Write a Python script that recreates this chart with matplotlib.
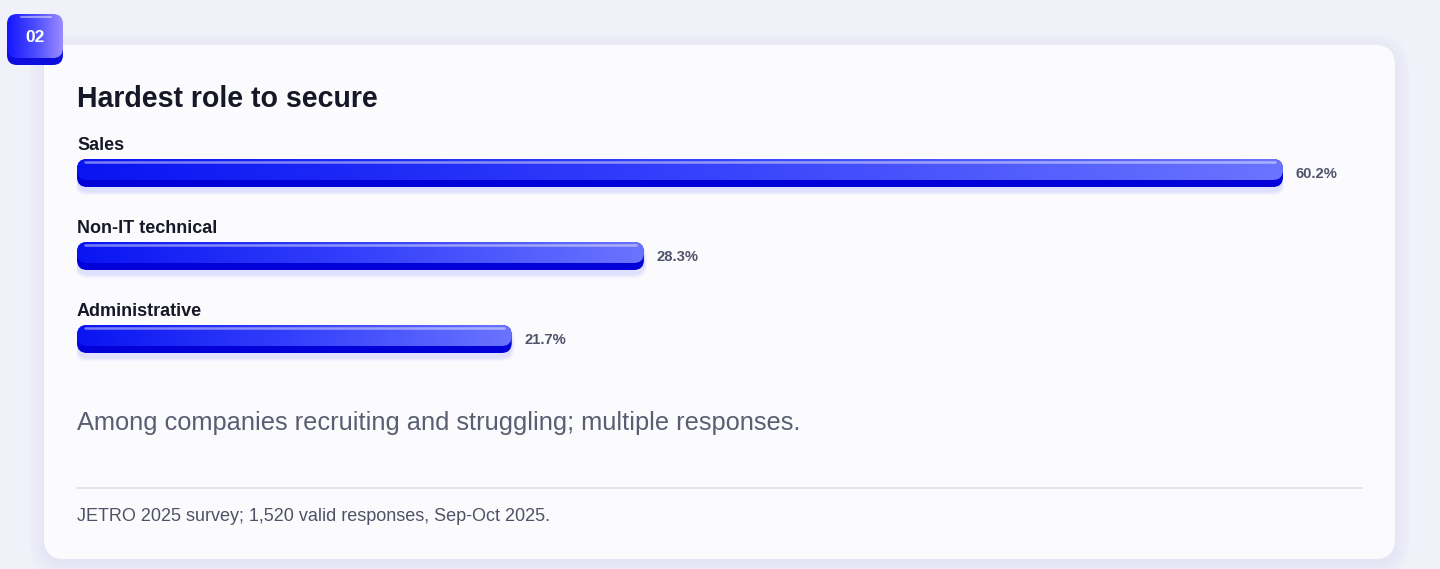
import numpy as np
import matplotlib
matplotlib.use("Agg")
import matplotlib.pyplot as plt
from matplotlib.patches import FancyBboxPatch
from matplotlib.colors import LinearSegmentedColormap

# ---- data ----
categories = ["Sales", "Non-IT technical", "Administrative"]
values = [60.2, 28.3, 21.7]
value_labels = ["60.2%", "28.3%", "21.7%"]
title = "Hardest role to secure"
subtitle = "Among companies recruiting and struggling; multiple responses."
footer = "JETRO 2025 survey; 1,520 valid responses, Sep-Oct 2025."
badge = "02"

W, H = 1440, 569
plt.rcParams['font.family'] = ['Liberation Sans', 'DejaVu Sans']
fig = plt.figure(figsize=(W / 100, H / 100), dpi=100)
fig.patch.set_facecolor("#f1f1fa")

# pixel overlay axes
ax0 = fig.add_axes([0, 0, 1, 1])
ax0.set_xlim(0, W)
ax0.set_ylim(H, 0)
ax0.axis("off")
ax0.set_zorder(0)

# card glow / shadow
for i, a in enumerate([0.05, 0.05, 0.05, 0.06, 0.07]):
    g = 14 - i * 3
    ax0.add_patch(FancyBboxPatch((44 - g, 45 - g + 4), 1351 + 2 * g, 514 + 2 * g,
                                 boxstyle="round,pad=0,rounding_size=%d" % (20 + g),
                                 fc="#c9c8f2", ec="none", alpha=a, zorder=1))
ax0.add_patch(FancyBboxPatch((44, 45), 1351, 514,
                             boxstyle="round,pad=0,rounding_size=20",
                             fc="#fbfbfd", ec="none", zorder=2))

# badge
bx, by, bw, bh = 7, 14, 56, 51
ax0.add_patch(FancyBboxPatch((bx, by + 4), bw, bh - 4,
                             boxstyle="round,pad=0,rounding_size=10",
                             fc="#0d0de0", ec="none", zorder=3))
bpatch = FancyBboxPatch((bx, by), bw, bh - 7,
                        boxstyle="round,pad=0,rounding_size=10",
                        fc="none", ec="none", zorder=4)
ax0.add_patch(bpatch)
bcmap = LinearSegmentedColormap.from_list("b", ["#1515ff", "#4b4cff", "#9b8cff"])
im = ax0.imshow(np.linspace(0, 1, 256)[None, :], cmap=bcmap, aspect="auto",
                extent=(bx, bx + bw, by + bh - 7, by), zorder=4)
im.set_clip_path(bpatch)
ax0.plot([bx + 14, bx + 44], [by + 2.5, by + 2.5], color="white", alpha=0.45, lw=1.5,
         solid_capstyle="round", zorder=5)
ax0.text(bx + bw / 2, by + 23, badge, color="white", fontsize=12.5, fontweight="bold",
         ha="center", va="center", zorder=6)

# texts
t_title = ax0.text(77, 107, title, fontsize=19, fontweight="bold", color="#161827",
                   ha="left", va="baseline", zorder=6)
t_sub = ax0.text(77, 430, subtitle, fontsize=17, color="#5a5e72",
                 ha="left", va="baseline", zorder=6)
t_foot = ax0.text(77, 521, footer, fontsize=12, color="#4f5266",
                  ha="left", va="baseline", zorder=6)
ax0.plot([77, 1362], [488, 488], color="#e2e2e8", lw=1.3, zorder=5)

# ---- bar axes ----
x0_px, x1_px = 77, 1283
c0_px, step_px = 173, 83
ylo, yhi = -0.6, 2.4
top_px = c0_px + ylo * step_px
bot_px = c0_px + yhi * step_px
ax = fig.add_axes([x0_px / W, 1 - bot_px / H, (x1_px - x0_px) / W, (bot_px - top_px) / H])
ax.set_zorder(10)
ax.patch.set_alpha(0)
ax.axis("off")
ax.set_xlim(0, max(values))
ax.set_ylim(yhi, ylo)

xpp = max(values) / (x1_px - x0_px)  # data x per pixel
ypp = 1.0 / step_px                    # data y per pixel
aspect = ypp / xpp
ypos = np.arange(len(categories))
bar_h = 28 * ypp
bars = ax.barh(ypos, values, height=bar_h, color="none", edgecolor="none")

gcmap = LinearSegmentedColormap.from_list("g", ["#0a14f2", "#3440fb", "#6a74ff"])
r = 10 * xpp
t_labels, t_vals = [], []
for i, b in enumerate(bars):
    x, y, w, h = b.get_x(), b.get_y(), b.get_width(), b.get_height()
    # soft shadow
    for k, a in enumerate([0.04, 0.05, 0.06]):
        g = (6 - 2 * k)
        ax.add_patch(FancyBboxPatch((x - g * xpp * 0.5, y + (4 - g * 0.3) * ypp), w + g * xpp, h + g * ypp,
                                    boxstyle="round,pad=0,rounding_size=%f" % (r * 1.3),
                                    mutation_aspect=aspect, fc="#3a46ff", ec="none",
                                    alpha=a, zorder=1))
    # dark base
    ax.add_patch(FancyBboxPatch((x, y), w, h,
                                boxstyle="round,pad=0,rounding_size=%f" % r,
                                mutation_aspect=aspect, fc="#0202d8", ec="none", zorder=2))
    # gradient top face
    top_h = 21 * ypp
    face = FancyBboxPatch((x, y), w, top_h,
                          boxstyle="round,pad=0,rounding_size=%f" % r,
                          mutation_aspect=aspect, fc="none", ec="none", zorder=3)
    ax.add_patch(face)
    gi = ax.imshow(np.linspace(0, 1, 256)[None, :], cmap=gcmap, aspect="auto",
                   extent=(x, x + w, y + top_h, y), zorder=3)
    gi.set_clip_path(face)
    # highlight line
    ax.plot([x + 8 * xpp, x + w - 8 * xpp], [y + 2.5 * ypp, y + 2.5 * ypp],
            color="white", alpha=0.45, lw=1.8, solid_capstyle="round", zorder=4)
    # labels
    t_labels.append(ax.text(0, ypos[i] - 23 * ypp, categories[i], fontsize=12.5,
                            fontweight="bold", color="#161827", ha="left",
                            va="baseline", clip_on=False, zorder=5))
    t_vals.append(ax.text(w + 13 * xpp, ypos[i] + 5 * ypp, value_labels[i], fontsize=10,
                          fontweight="bold", color="#50536a", ha="left",
                          va="baseline", clip_on=False, zorder=5))
ax.set_xlim(0, max(values))
ax.set_ylim(yhi, ylo)

# fit font sizes to measured widths
fig.canvas.draw()
rend = fig.canvas.get_renderer()
def fit(ref, target, group):
    w = ref.get_window_extent(rend).width
    s = ref.get_fontsize() * target / w
    for t in group:
        t.set_fontsize(s)
fit(t_title, 301, [t_title])
fit(t_sub, 724, [t_sub])
fit(t_foot, 473, [t_foot])
fit(t_labels[1], 140, t_labels)
fit(t_vals[0], 42, t_vals)

fig.savefig("out.png", dpi=100, facecolor=fig.get_facecolor())
